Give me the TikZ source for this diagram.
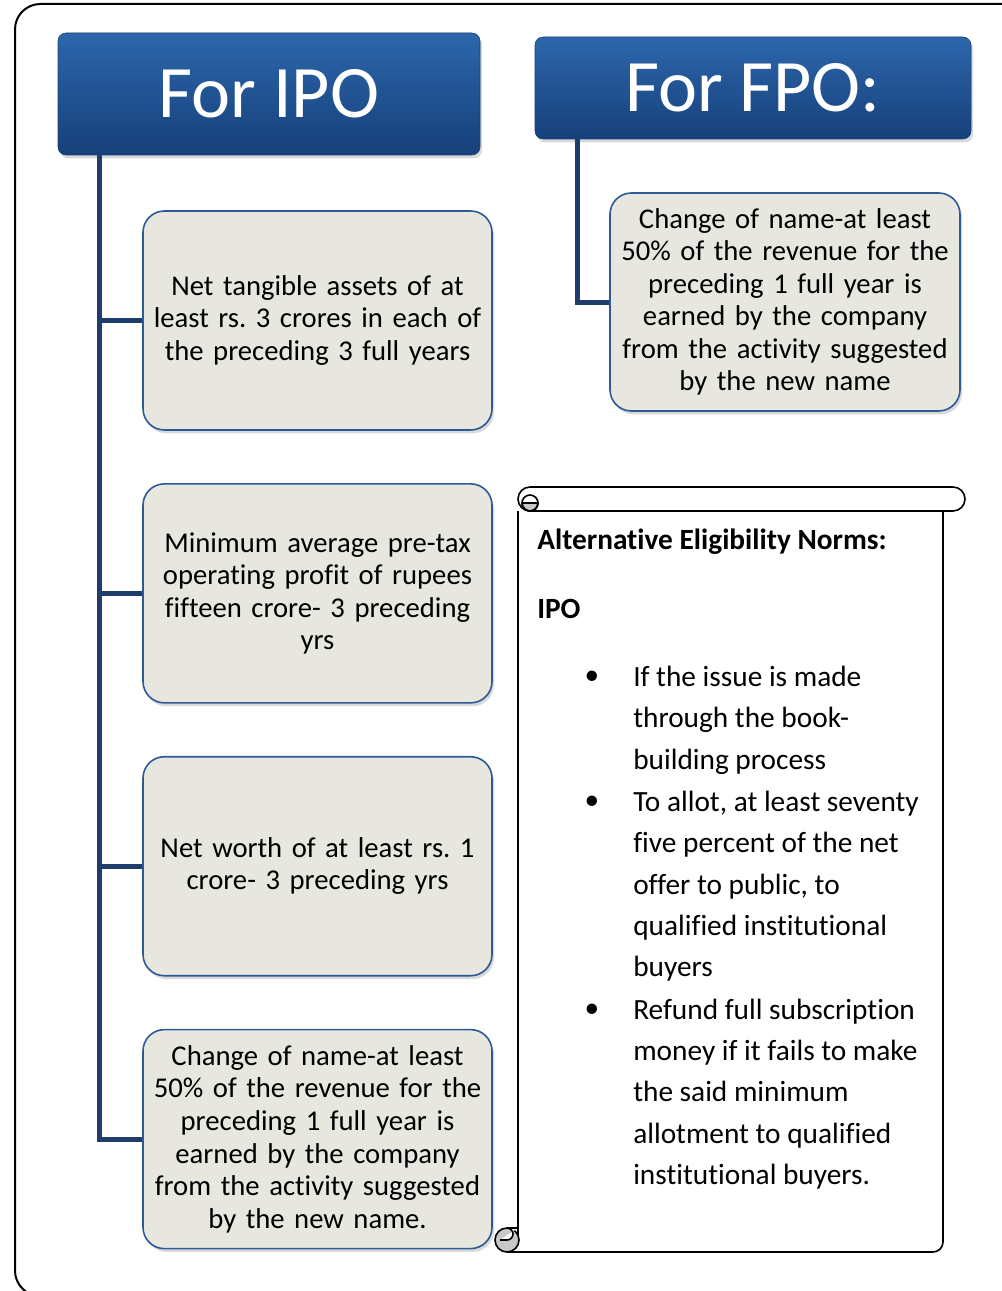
\documentclass[tikz,border=0pt]{standalone}
\usepackage{fontspec}
\setmainfont{Carlito}[Ligatures=NoCommon]
\frenchspacing
\usetikzlibrary{shapes,positioning,shadows}
\definecolor{hdrtop}{RGB}{45,102,172}
\definecolor{hdrbot}{RGB}{22,64,122}
\definecolor{trunkblue}{RGB}{31,61,107}
\definecolor{boxblue}{RGB}{45,90,150}
\definecolor{boxfill}{RGB}{231,230,223}
\definecolor{curlgrey}{RGB}{200,200,200}

\begin{document}
\begin{tikzpicture}[x=0.75pt,y=-0.75pt,
    header/.style={rectangle, rounded corners=6pt, top color=hdrtop, bottom color=hdrbot, draw=hdrbot,
        text=white, font=\fontsize{55.5}{60}\selectfont,
        drop shadow={shadow xshift=1.5pt, shadow yshift=-2.5pt, opacity=0.3}},
    infobox/.style={rectangle, rounded corners=16pt, draw=boxblue, line width=1.2pt, fill=boxfill,
        minimum width=261.75pt, minimum height=164.25pt, text width=250pt, align=center,
        font=\fontsize{21.5}{24.4}\selectfont,
        drop shadow={shadow xshift=1.5pt, shadow yshift=-2.5pt, opacity=0.3}},
    trunk/.style={trunkblue, line width=3.75pt},
    scrollline/.style={black, line width=1.2pt},
    scrolltext/.style={inner sep=0pt, anchor=west, align=left, font=\fontsize{22}{31}\selectfont}]

    \useasboundingbox (0,0) rectangle (1002,1291);
    \clip (0,0) rectangle (1002,1291);

    % Outer frame
    \draw[line width=1.5pt, rounded corners=19pt] (15,4) rectangle (1030,1296);

    % Headers
    \node[header, minimum width=316.5pt, minimum height=91.5pt] (ipo) at (269,94) {For IPO};
    \node[header, minimum width=327pt, minimum height=76.5pt] (fpo) at (753,88) {For FPO:};

    % IPO boxes
    \node[infobox] (net) at (317.5,320.5) {Net tangible assets of at\\least rs. 3 crores in each of\\the preceding 3 full years};
    \node[infobox, below=39.2pt of net] (profit) {Minimum average pre-tax\\operating profit of rupees\\fifteen crore- 3 preceding\\yrs};
    \node[infobox, below=39.2pt of profit] (worth) {Net worth of at least rs. 1\\crore- 3 preceding yrs};
    \node[infobox, below=39.2pt of worth] (newname) {Change of name-at least\\50\% of the revenue for the\\preceding 1 full year is\\earned by the company\\from the activity suggested\\by the new name.};

    % FPO box
    \node[infobox, minimum width=262.5pt, minimum height=163.5pt] (fponame) at (785,302) {Change of name-at least\\50\% of the revenue for the\\preceding 1 full year is\\earned by the company\\from the activity suggested\\by the new name};

    % Connectors
    \foreach \b in {net,profit,worth,newname}
        \draw[trunk] ([xshift=31.5pt]ipo.south west) |- (\b.west);
    \draw[trunk] ([xshift=32.25pt]fpo.south west) |- (fponame.west);

    % Scroll
    \draw[scrollline] (518,511) -- (518,1240);
    \draw[scrollline] (943,511) -- (943,1242) arc[start angle=0, end angle=90, radius=10] -- (507,1252);
    \draw[scrollline, fill=white] (530,487) -- (953,487) arc[start angle=-90, end angle=90, radius=12]
        -- (530,511) arc[start angle=90, end angle=270, radius=12] -- cycle;
    \draw[scrollline, fill=curlgrey] (522,503) arc[start angle=180, end angle=0, radius=8] -- cycle;
    \draw[scrollline] (530,503) circle[radius=8];
    \draw[scrollline, fill=curlgrey] (507,1240) circle[radius=12];
    \draw[scrollline, fill=white] (518,1228) -- (507,1228) arc[start angle=-90, end angle=90, radius=6] -- (500,1240);

    % Scroll text
    \node[scrolltext, font=\fontsize{22}{31}\selectfont\bfseries] (altnorms) at (537,542) {Alternative Eligibility Norms:};
    \node[scrolltext, font=\fontsize{22}{31}\selectfont\bfseries] (ipohead) at (537,609) {IPO};
    \node[scrolltext, anchor=center] (dot1) at (592,678) {\textbullet};
    \node[scrolltext] (bookbuild) at (633,720) {If the issue is made\\through the book-\\building process};
    \node[scrolltext, anchor=center] (dot2) at (592,803) {\textbullet};
    \node[scrolltext] (allot) at (633,886.5) {To allot, at least seventy\\five percent of the net\\offer to public, to\\qualified institutional\\buyers};
    \node[scrolltext, anchor=center] (dot3) at (592,1011) {\textbullet};
    \node[scrolltext] (refund) at (633,1094) {Refund full subscription\\money if it fails to make\\the said minimum\\allotment to qualified\\institutional buyers.};
\end{tikzpicture}
\end{document}
